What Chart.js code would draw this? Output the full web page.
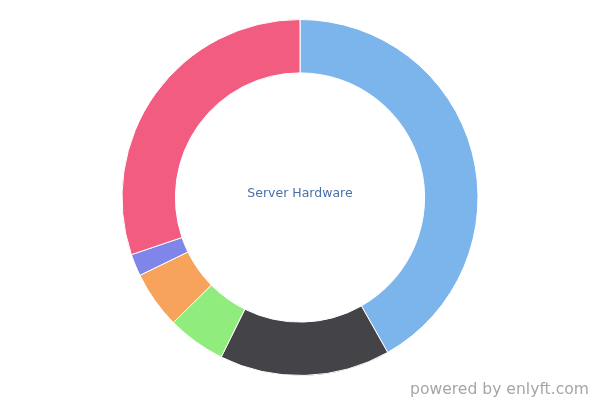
<!DOCTYPE html>
<html>
<head>
<meta charset="utf-8">
<script src="https://cdn.jsdelivr.net/npm/chart.js@4/dist/chart.umd.min.js"></script>
<style>
  html, body { margin: 0; padding: 0; background: #fff; }
  #wrap { position: relative; width: 600px; height: 400px; }
</style>
</head>
<body>
<div id="wrap"><canvas id="chart" width="600" height="400"></canvas></div>
<script>
// shares, clockwise from 12 o'clock
const labels = ['Vendor A', 'Vendor B', 'Vendor C', 'Vendor D', 'Vendor E', 'Others'];
const shares = [41.8, 15.5, 5.3, 5.2, 2.0, 30.2];
const colors = ['#7cb5ec', '#434348', '#90ed7d', '#f7a35c', '#8085e9', '#f15c80'];
const centerTitle = 'Server Hardware';
const credit = 'powered by enlyft.com';

// center label + credit text
const textPlugin = {
  id: 'texts',
  afterDraw(chart) {
    const ctx = chart.ctx;
    const meta = chart.getDatasetMeta(0).data[0];
    ctx.save();
    ctx.font = '12.5px "DejaVu Sans", sans-serif';
    ctx.fillStyle = '#4a70a8';
    ctx.textAlign = 'center';
    ctx.textBaseline = 'middle';
    ctx.fillText(centerTitle, meta.x, meta.y - 4);
    ctx.font = '15.6px "DejaVu Sans", sans-serif';
    ctx.fillStyle = '#a6a6a6';
    ctx.textAlign = 'right';
    ctx.textBaseline = 'alphabetic';
    ctx.fillText(credit, 589, 394);
    ctx.restore();
  }
};

new Chart(document.getElementById('chart'), {
  type: 'doughnut',
  data: {
    labels: labels,
    datasets: [{
      data: shares,
      backgroundColor: colors,
      borderColor: '#ffffff',
      borderWidth: 1
    }]
  },
  options: {
    responsive: false,
    animation: false,
    cutout: '70%',
    layout: { padding: { top: 19, bottom: 24, left: 0, right: 0 } },
    plugins: {
      legend: { display: false },
      tooltip: { enabled: false }
    }
  },
  plugins: [textPlugin]
});
</script>
</body>
</html>
